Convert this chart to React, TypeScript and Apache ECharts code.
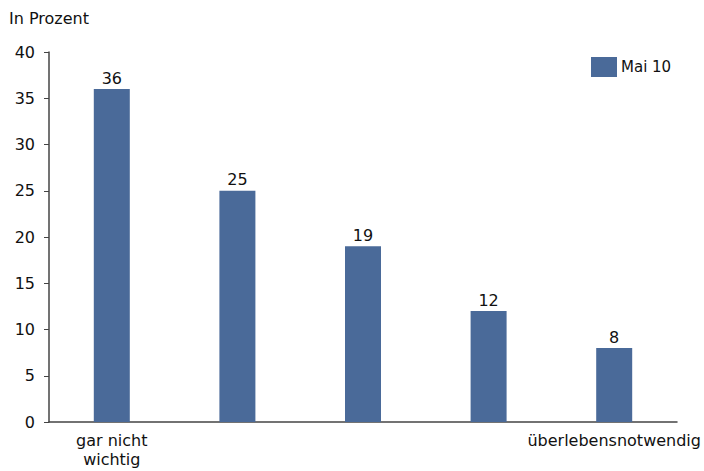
import React, { useEffect, useRef } from "react";
import * as echarts from "echarts";

const categories = ["gar nicht\nwichtig", "", "", "", "überlebensnotwendig"];
const values = [36, 25, 19, 12, 8];
const seriesName = "Mai 10";
const yTicks = { min: 0, max: 40, interval: 5 };

const FONT = "DejaVu Sans";

export default function App() {
  const ref = useRef<HTMLDivElement>(null);
  useEffect(() => {
    if (!ref.current) return;
    const chart = echarts.init(ref.current, null, { renderer: "svg" });
    chart.setOption({
      animation: false,
      backgroundColor: "#ffffff",
      textStyle: { fontFamily: FONT },
      graphic: [
        {
          type: "text",
          left: 9,
          top: 10,
          style: { text: "In Prozent", font: `16px '${FONT}'`, fill: "#111" },
        },
      ],
      legend: {
        left: 586,
        top: 52,
        itemWidth: 26,
        itemHeight: 20,
        itemGap: 6,
        icon: "rect",
        textStyle: { fontSize: 15, color: "#111", fontFamily: FONT, padding: [0, 0, 0, -1] },
        data: [seriesName],
      },
      grid: { left: 49, right: 27, top: 52, bottom: 49, containLabel: false },
      xAxis: {
        type: "category",
        data: categories,
        axisLine: { lineStyle: { color: "#444", width: 1.5 } },
        axisTick: { show: false },
        axisLabel: {
          interval: 0,
          color: "#111",
          fontSize: 16,
          fontFamily: FONT,
          margin: 9,
          lineHeight: 19,
        },
      },
      yAxis: {
        type: "value",
        min: yTicks.min,
        max: yTicks.max,
        interval: yTicks.interval,
        axisLine: { show: true, lineStyle: { color: "#444", width: 1.5 } },
        axisTick: { show: true, length: 5, lineStyle: { color: "#444" } },
        splitLine: { show: false },
        axisLabel: { color: "#111", fontSize: 16, fontFamily: FONT, margin: 14 },
      },
      series: [
        {
          name: seriesName,
          type: "bar",
          data: values,
          barWidth: 36,
          itemStyle: { color: "#4a6a99" },
          label: {
            show: true,
            position: "top",
            color: "#111",
            fontSize: 16,
            fontFamily: FONT,
            distance: 3,
          },
        },
      ],
    });
    return () => chart.dispose();
  }, []);
  return (
    <div
      ref={ref}
      style={{ position: "fixed", left: 0, top: 0, width: 704, height: 471 }}
    />
  );
}
